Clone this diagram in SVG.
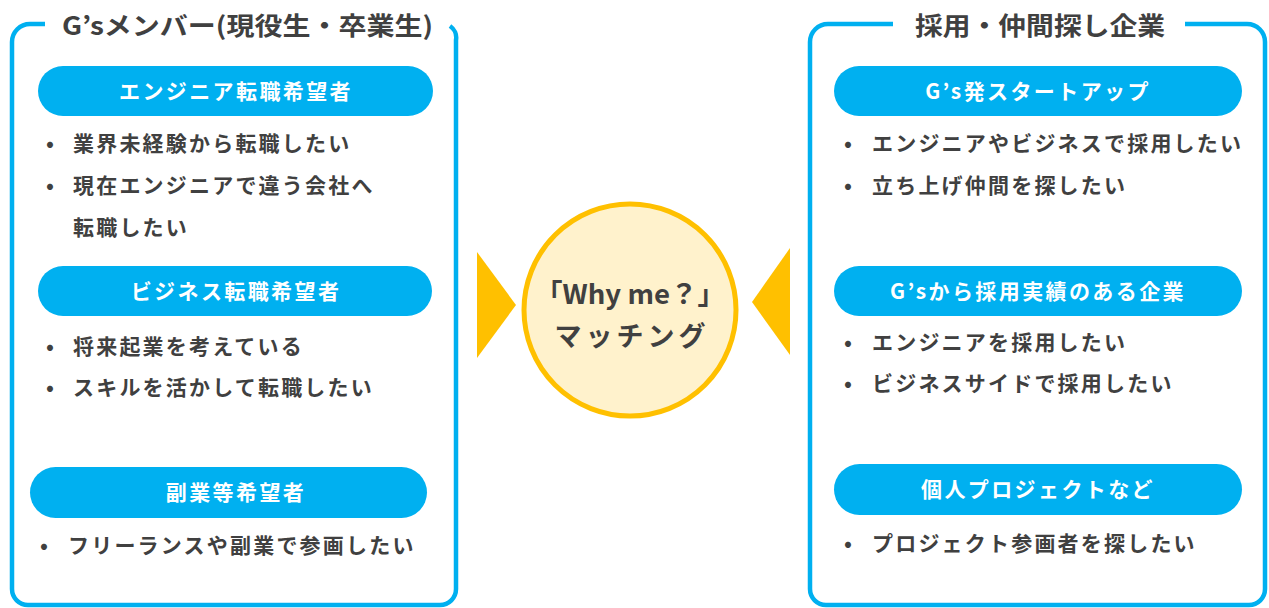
<svg xmlns="http://www.w3.org/2000/svg" width="1269" height="608" viewBox="0 0 1269 608">
<style>
.frame{fill:none;stroke:#00B0F0;stroke-width:4.5}
.title{font-family:"Noto Sans CJK JP","Noto Sans",sans-serif;font-weight:700;font-size:25px;fill:#404040}
.pill{fill:#00B0F0}
.pt{font-family:"Noto Sans CJK JP","Noto Sans",sans-serif;font-weight:700;font-size:21px;fill:#fff;text-anchor:middle;letter-spacing:2.4px}
.bt{font-family:"Noto Sans CJK JP","Noto Sans",sans-serif;font-weight:700;font-size:21px;fill:#404040;letter-spacing:2.2px}
.tri{fill:#FFC000}
.ct{font-family:"Noto Sans CJK JP","Noto Sans",sans-serif;font-weight:700;font-size:27px;fill:#404040;text-anchor:middle}
</style>
<rect width="1269" height="608" fill="#fff"/>
<g id="left-group">
<path class="frame" d="M45,24 H30 A18,18 0 0 0 12,42 V589 A16,16 0 0 0 28,605 H440 A16,16 0 0 0 456,589 V40 A14,14 0 0 0 450,26"/>
<text class="title" x="62" y="35" textLength="371" lengthAdjust="spacingAndGlyphs">G’sメンバー(現役生・卒業生)</text>
</g>
<g id="left-engineer">
<rect class="pill" x="38" y="66" width="395" height="50" rx="25"/>
<text class="pt" x="236" y="99">エンジニア転職希望者</text>
<text class="bt" x="46" y="151">•</text>
<text class="bt" x="73" y="151">業界未経験から転職したい</text>
<text class="bt" x="46" y="193">•</text>
<text class="bt" x="73" y="193">現在エンジニアで違う会社へ</text>
<text class="bt" x="73" y="235">転職したい</text>
</g>
<g id="left-business">
<rect class="pill" x="38" y="266" width="394" height="50" rx="25"/>
<text class="pt" x="236" y="299">ビジネス転職希望者</text>
<text class="bt" x="46" y="354">•</text>
<text class="bt" x="73" y="354">将来起業を考えている</text>
<text class="bt" x="46" y="395">•</text>
<text class="bt" x="73" y="395">スキルを活かして転職したい</text>
</g>
<g id="left-side">
<rect class="pill" x="30" y="467" width="397" height="51" rx="25.5"/>
<text class="pt" x="236" y="500">副業等希望者</text>
<text class="bt" x="40" y="553">•</text>
<text class="bt" x="68" y="553">フリーランスや副業で参画したい</text>
</g>
<g id="right-group">
<path class="frame" d="M893,24 H828 A18,18 0 0 0 810,42 V589 A16,16 0 0 0 826,605 H1249 A16,16 0 0 0 1265,589 V42 A18,18 0 0 0 1247,24 H1185"/>
<text class="title" x="915" y="35" textLength="250" lengthAdjust="spacingAndGlyphs">採用・仲間探し企業</text>
</g>
<g id="right-startup">
<rect class="pill" x="834" y="66" width="408" height="50" rx="25"/>
<text class="pt" x="1038" y="99">G’s発スタートアップ</text>
<text class="bt" x="844" y="151">•</text>
<text class="bt" x="872" y="151">エンジニアやビジネスで採用したい</text>
<text class="bt" x="844" y="193">•</text>
<text class="bt" x="872" y="193">立ち上げ仲間を探したい</text>
</g>
<g id="right-hired">
<rect class="pill" x="834" y="266" width="408" height="50" rx="25"/>
<text class="pt" x="1038" y="299">G’sから採用実績のある企業</text>
<text class="bt" x="844" y="350">•</text>
<text class="bt" x="872" y="350">エンジニアを採用したい</text>
<text class="bt" x="844" y="391">•</text>
<text class="bt" x="872" y="391">ビジネスサイドで採用したい</text>
</g>
<g id="right-project">
<rect class="pill" x="834" y="464" width="408" height="51" rx="25.5"/>
<text class="pt" x="1038" y="497">個人プロジェクトなど</text>
<text class="bt" x="844" y="551">•</text>
<text class="bt" x="872" y="551">プロジェクト参画者を探したい</text>
</g>
<g id="connectors">
<polygon class="tri" points="477,252 516,305 477,358"/>
<polygon class="tri" points="790,248 752,302 790,355"/>
</g>
<g id="center">
<circle cx="630" cy="310" r="106" fill="#FFF2CC" stroke="#FFC000" stroke-width="5"/>
<text class="ct" x="630" y="304" textLength="190" lengthAdjust="spacingAndGlyphs">「Why me？」</text>
<text class="ct" x="632" y="346" letter-spacing="4">マッチング</text>
</g>
</svg>
